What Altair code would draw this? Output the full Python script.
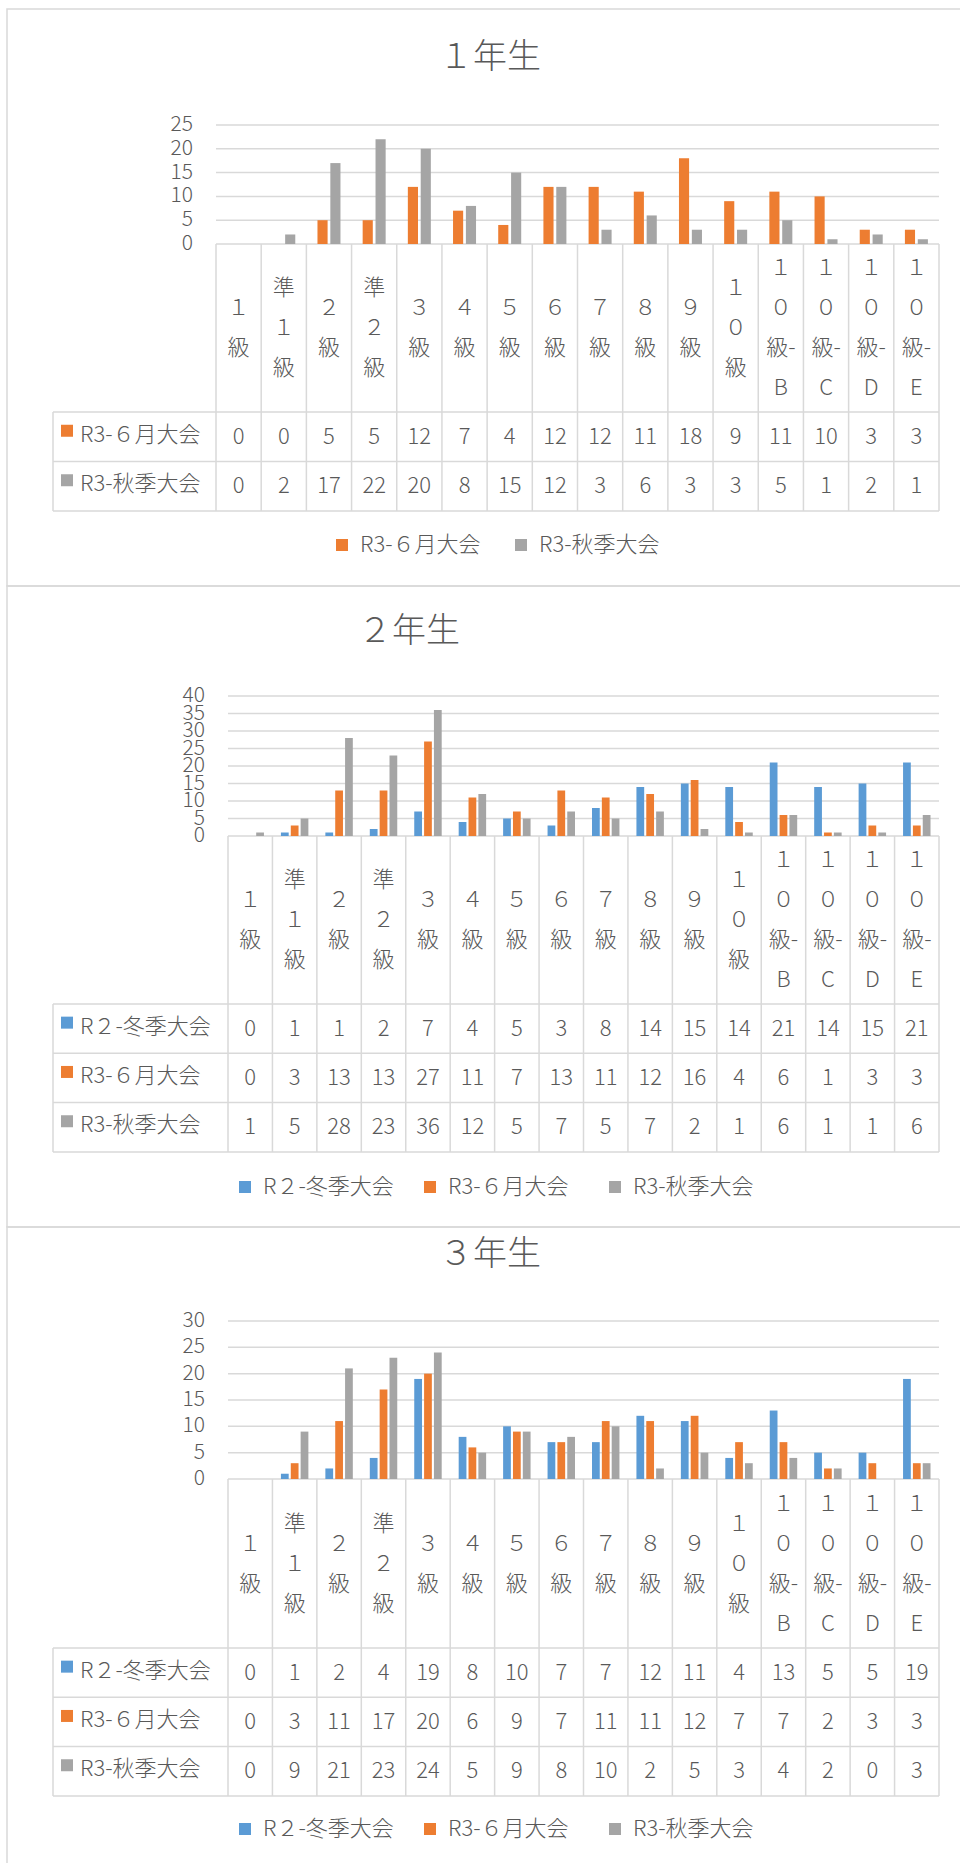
import altair as alt
import pandas as pd

FONT = "Noto Sans CJK JP"
WEIGHT = 300
TEXT_COLOR = "#595959"
LINE_COLOR = "#D9D9D9"

CATEGORIES = ["１級", "準１級", "２級", "準２級", "３級", "４級", "５級", "６級", "７級",
              "８級", "９級", "１０級", "１０級-B", "１０級-C", "１０級-D", "１０級-E"]

S_WINTER = "R２-冬季大会"
S_JUNE = "R3-６月大会"
S_AUTUMN = "R3-秋季大会"
SERIES_ALL = [S_WINTER, S_JUNE, S_AUTUMN]
SERIES_COLORS = ["#5B9BD5", "#ED7D31", "#A5A5A5"]

G1_TITLE = "１年生"
G1_SERIES = [S_JUNE, S_AUTUMN]
G1_JUNE = [0, 0, 5, 5, 12, 7, 4, 12, 12, 11, 18, 9, 11, 10, 3, 3]
G1_AUTUMN = [0, 2, 17, 22, 20, 8, 15, 12, 3, 6, 3, 3, 5, 1, 2, 1]
G1_TICKS = [0, 5, 10, 15, 20, 25]

G2_TITLE = "２年生"
G2_SERIES = [S_WINTER, S_JUNE, S_AUTUMN]
G2_WINTER = [0, 1, 1, 2, 7, 4, 5, 3, 8, 14, 15, 14, 21, 14, 15, 21]
G2_JUNE = [0, 3, 13, 13, 27, 11, 7, 13, 11, 12, 16, 4, 6, 1, 3, 3]
G2_AUTUMN = [1, 5, 28, 23, 36, 12, 5, 7, 5, 7, 2, 1, 6, 1, 1, 6]
G2_TICKS = [0, 5, 10, 15, 20, 25, 30, 35, 40]

G3_TITLE = "３年生"
G3_SERIES = [S_WINTER, S_JUNE, S_AUTUMN]
G3_WINTER = [0, 1, 2, 4, 19, 8, 10, 7, 7, 12, 11, 4, 13, 5, 5, 19]
G3_JUNE = [0, 3, 11, 17, 20, 6, 9, 7, 11, 11, 12, 7, 7, 2, 3, 3]
G3_AUTUMN = [0, 9, 21, 23, 24, 5, 9, 8, 10, 2, 5, 3, 4, 2, 0, 3]
G3_TICKS = [0, 5, 10, 15, 20, 25, 30]

# ---- layout (pixels) ----
TABLE_LEFT = 53
LINE_H = 40
LAYOUT1 = dict(x0=216, x1=939, y_zero=244, y_top=125, table_top=412, row_h=49.5,
               title_x=490, title_y=58, legend_x=331, legend_y=534, legend_pad=29, legend_grid="each",
               box_top=9, box_bottom=586)
LAYOUT2 = dict(x0=228, x1=939, y_zero=836, y_top=696, table_top=1004, row_h=49.3,
               title_x=409, title_y=632, legend_x=234, legend_y=1176, legend_pad=25, legend_grid="all",
               box_top=586, box_bottom=1227)
LAYOUT3 = dict(x0=228, x1=939, y_zero=1479, y_top=1321, table_top=1648, row_h=49.3,
               title_x=490, title_y=1255, legend_x=234, legend_y=1818, legend_pad=25, legend_grid="all",
               box_top=1227, box_bottom=1950)


def stack_label(s):
    lines = []
    for ch in s:
        if ch == "-" and lines:
            lines[-1] += ch
        else:
            lines.append(ch)
    return "\n".join(lines)


def make_grade(title, series, values, ticks, L):
    n = len(CATEGORIES)
    step = (L["x1"] - L["x0"]) / n
    long = pd.DataFrame([{"cat": c, "series": s, "value": v}
                         for s, vals in zip(series, values) for c, v in zip(CATEGORIES, vals)])
    labels = [stack_label(c) for c in CATEGORIES]
    cat_df = pd.DataFrame({"cat": CATEGORIES, "label": labels,
                           "k": [lab.count("\n") for lab in labels]})
    one = pd.DataFrame({"t": [title]})
    table_bottom = L["table_top"] + L["row_h"] * len(series)
    cat_center = (L["y_zero"] + L["table_top"]) / 2

    xband = alt.Scale(domain=CATEGORIES, range=[L["x0"], L["x1"]], paddingInner=0, paddingOuter=0)
    yval = alt.Scale(domain=[0, ticks[-1]], range=[L["y_zero"], L["y_top"]], nice=False, zero=True)
    rowscale = alt.Scale(type="band", domain=series, range=[L["table_top"], table_bottom],
                         paddingInner=0, paddingOuter=0)
    colors = [SERIES_COLORS[SERIES_ALL.index(s)] for s in series]
    cscale = alt.Scale(domain=series, range=colors)

    layers = []
    # chart frame
    layers.append(alt.Chart(one).mark_rect(fill="white", fillOpacity=0, stroke=LINE_COLOR, strokeWidth=1.5).encode(
        x=alt.value(7), x2=alt.value(1000), y=alt.value(L["box_top"]), y2=alt.value(L["box_bottom"])))
    # title
    layers.append(alt.Chart(one).mark_text(font=FONT, fontWeight=WEIGHT, fontSize=34, color=TEXT_COLOR,
                                           align="center", baseline="middle").encode(
        x=alt.value(L["title_x"]), y=alt.value(L["title_y"]), text="t:N"))
    # gridlines
    tick_df = pd.DataFrame({"tick": ticks})
    layers.append(alt.Chart(tick_df).mark_rule(color=LINE_COLOR, strokeWidth=1.5).encode(
        y=alt.Y("tick:Q", scale=yval, axis=None), x=alt.value(L["x0"]), x2=alt.value(L["x1"])))
    layers.append(alt.Chart(tick_df).mark_text(font=FONT, fontWeight=WEIGHT, fontSize=21, color=TEXT_COLOR,
                                               align="right", baseline="middle").encode(
        y=alt.Y("tick:Q", scale=yval, axis=None), x=alt.value(L["x0"] - 23), text="tick:Q"))
    # bars
    layers.append(alt.Chart(long).mark_bar().encode(
        x=alt.X("cat:N", scale=xband, axis=None),
        xOffset=alt.XOffset("series:N", scale=alt.Scale(domain=series, range=[0, step],
                                                          paddingInner=0.2126, paddingOuter=0.862)),
        y=alt.Y("value:Q", scale=yval, axis=None),
        color=alt.Color("series:N", scale=cscale, legend=alt.Legend(
            orient="none", legendX=L["legend_x"], legendY=L["legend_y"], direction="horizontal",
            columns=len(series), gridAlign=L["legend_grid"], padding=0, offset=0,
            title=None, symbolType="square", symbolSize=144, symbolStrokeWidth=0, symbolOpacity=1,
            labelFont=FONT, labelFontWeight=WEIGHT, labelFontSize=22, labelColor=TEXT_COLOR, labelOffset=7,
            columnPadding=L["legend_pad"], labelLimit=300))))
    # table vertical lines
    b_df = pd.DataFrame({"b": list(range(n + 1))})
    layers.append(alt.Chart(b_df).mark_rule(color=LINE_COLOR, strokeWidth=1.5).encode(
        x=alt.X("b:Q", scale=alt.Scale(domain=[0, n], range=[L["x0"], L["x1"]]), axis=None),
        y=alt.value(L["y_zero"]), y2=alt.value(table_bottom)))
    # table horizontal lines
    r_df = pd.DataFrame({"r": list(range(len(series) + 1))})
    layers.append(alt.Chart(r_df).mark_rule(color=LINE_COLOR, strokeWidth=1.5).encode(
        y=alt.Y("r:Q", scale=alt.Scale(domain=[0, len(series)], range=[L["table_top"], table_bottom]),
                axis=None),
        x=alt.value(TABLE_LEFT), x2=alt.value(L["x1"])))
    layers.append(alt.Chart(one).mark_rule(color=LINE_COLOR, strokeWidth=1.5).encode(
        x=alt.value(TABLE_LEFT), y=alt.value(L["table_top"]), y2=alt.value(table_bottom)))
    # category labels (stacked vertically, block centred in the label band)
    layers.append(alt.Chart(cat_df).mark_text(font=FONT, fontWeight=WEIGHT, fontSize=22, color=TEXT_COLOR,
                                              align="center", baseline="middle", lineBreak="\n",
                                              lineHeight=LINE_H).encode(
        x=alt.X("cat:N", scale=xband, axis=None, bandPosition=0.5),
        y=alt.Y("k:Q", scale=alt.Scale(domain=[0, 1], range=[cat_center, cat_center - LINE_H / 2],
                                       zero=False, nice=False), axis=None),
        text="label:N"))
    # table values
    layers.append(alt.Chart(long).mark_text(font=FONT, fontWeight=WEIGHT, fontSize=22, color=TEXT_COLOR,
                                            align="center", baseline="middle").encode(
        x=alt.X("cat:N", scale=xband, axis=None, bandPosition=0.5),
        y=alt.Y("series:N", scale=rowscale, axis=None, bandPosition=0.5),
        text="value:Q"))
    # row labels
    s_df = pd.DataFrame({"series": series})
    layers.append(alt.Chart(s_df).mark_text(font=FONT, fontWeight=WEIGHT, fontSize=22, color=TEXT_COLOR,
                                            align="left", baseline="middle", dy=-2).encode(
        x=alt.value(80), y=alt.Y("series:N", scale=rowscale, axis=None, bandPosition=0.5),
        text="series:N"))
    layers.append(alt.Chart(s_df).mark_point(shape="square", filled=True, size=144, opacity=1,
                                             yOffset=-6).encode(
        x=alt.value(67), y=alt.Y("series:N", scale=rowscale, axis=None, bandPosition=0.5),
        color=alt.Color("series:N", scale=cscale, legend=None)))
    return layers


all_layers = []
all_layers += make_grade(G1_TITLE, G1_SERIES, [G1_JUNE, G1_AUTUMN], G1_TICKS, LAYOUT1)
all_layers += make_grade(G2_TITLE, G2_SERIES, [G2_WINTER, G2_JUNE, G2_AUTUMN], G2_TICKS, LAYOUT2)
all_layers += make_grade(G3_TITLE, G3_SERIES, [G3_WINTER, G3_JUNE, G3_AUTUMN], G3_TICKS, LAYOUT3)

chart = alt.layer(*all_layers).resolve_scale(
    x="independent", y="independent", color="independent", xOffset="independent"
).properties(
    width=960, height=1863, padding=0, autosize=alt.AutoSizeParams(type="none"), background="white"
).configure_view(stroke=None)

chart.save("out.html", embed_options={"renderer": "svg", "actions": False})
